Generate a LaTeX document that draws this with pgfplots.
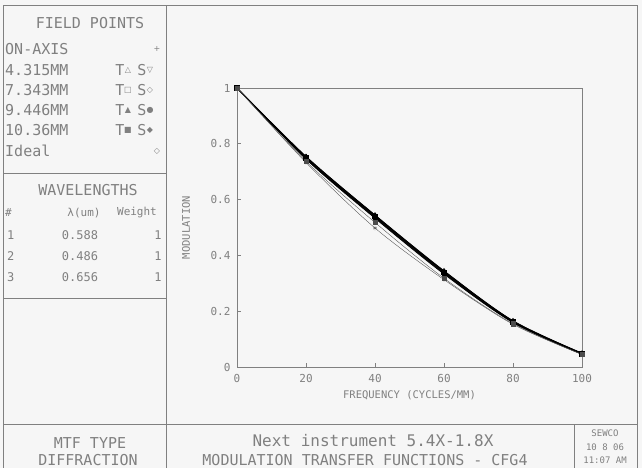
\documentclass[border=0pt]{standalone}
\usepackage{fontspec}
\setmainfont{DejaVu Sans Mono}
\newfontfamily\symfont{DejaVu Sans}
\usepackage{pgfplots}
\pgfplotsset{compat=1.18}
\definecolor{ink}{gray}{0.5}
\definecolor{paper}{gray}{0.965}
\newcommand\fs[1]{\fontsize{#1}{#1}\selectfont}
\newcommand\sym[1]{{\symfont\fs{8}#1}}

\begin{document}
\begin{tikzpicture}[x=1pt,y=1pt]
\path[use as bounding box, fill=paper] (0,0) rectangle (642,468);

% frame and panels
\begin{scope}[ink, line width=0.6pt]
\draw (3,0) -- (3,463) -- (637,463) -- (637,0);
\draw (166,0) -- (166,463);
\draw (3,295) -- (166,295);
\draw (3,170) -- (166,170);
\draw (3,44) -- (637,44);
\draw (574,0) -- (574,44);
\end{scope}

% field points
\begin{scope}[every node/.style={ink, inner sep=0pt, font=\fs{15}}]
\node at (90,445) {FIELD POINTS};
\node[anchor=west] at (5,419) {ON-AXIS};
\node[anchor=west] at (5,398) {4.315MM};
\node[anchor=west] at (5,378) {7.343MM};
\node[anchor=west] at (5,358) {9.446MM};
\node[anchor=west] at (5,338) {10.36MM};
\node[anchor=west] at (5,317) {Ideal};
\node at (157,419) {\sym{+}};
\node at (157,317) {\sym{◇}};
\foreach \yy/\ta/\sb in {398/△/▽, 378/□/◇, 358/▲/●, 338/■/◆} {
  \node at (120,\yy) {T};
  \node at (128,\yy) {\sym{\ta}};
  \node at (142,\yy) {S};
  \node at (150,\yy) {\sym{\sb}};
}
\node at (88,278) {WAVELENGTHS};
\node[anchor=west, font=\fs{11}] at (5,255) {\#};
\node[font=\fs{11}] at (84,255) {λ(um)};
\node[font=\fs{11}] at (137,255) {Weight};
\foreach \yy/\n/\w in {233/1/0.588, 212/2/0.486, 191/3/0.656} {
  \node[anchor=west, font=\fs{12}] at (7,\yy) {\n};
  \node[font=\fs{12}] at (80,\yy) {\w};
  \node[font=\fs{12}] at (158,\yy) {1};
}
\node at (90,25) {MTF TYPE};
\node at (88,8) {DIFFRACTION};
\node[font=\fs{16}] at (373,27) {Next instrument 5.4X-1.8X};
\node[font=\fs{15}] at (365,8) {MODULATION TRANSFER FUNCTIONS - CFG4};
\node[font=\fs{9}] at (605,35) {SEWCO};
\node[font=\fs{9}] at (605,21) {10 8 06};
\node[font=\fs{9}] at (605,8) {11:07 AM};
\end{scope}

\begin{axis}[
  at={(237pt,101pt)}, anchor=south west,
  scale only axis, width=345pt, height=279pt,
  xmin=0, xmax=100, ymin=0, ymax=1,
  xtick={0,20,40,60,80,100},
  ytick={0,0.2,0.4,0.6,0.8,1},
  tick align=inside, tick pos=left, major tick length=4pt,
  axis line style={ink, line width=0.6pt},
  tick style={ink, line width=0.6pt},
  ticklabel style={ink, font=\fs{11}},
  xticklabel style={yshift=-4pt},
  yticklabel style={xshift=-3pt},
  /pgf/number format/assume math mode=true,
  xlabel={FREQUENCY (CYCLES/MM)},
  ylabel={MODULATION},
  label style={ink, font=\fs{10.5}},
  xlabel style={at={(axis description cs:0.5,-0.1)}, anchor=center},
  ylabel style={at={(axis description cs:-0.148,0.5)}, anchor=center},
  every axis plot/.append style={black, line width=0.7pt, smooth, mark size=2.2pt, mark options={solid}},
]
% Ideal
\addplot[mark=diamond] coordinates {(0,1) (20,0.755) (40,0.545) (60,0.345) (80,0.166) (100,0.050)};
% on-axis
\addplot[mark=+] coordinates {(0,1) (20,0.754) (40,0.544) (60,0.344) (80,0.165) (100,0.049)};
% 4.315 T, S
\addplot[mark=triangle] coordinates {(0,1) (20,0.752) (40,0.542) (60,0.342) (80,0.164) (100,0.048)};
\addplot[mark=triangle, mark options={rotate=180}] coordinates {(0,1) (20,0.751) (40,0.541) (60,0.341) (80,0.163) (100,0.048)};
% 7.343 T, S
\addplot[mark=square] coordinates {(0,1) (20,0.749) (40,0.539) (60,0.339) (80,0.162) (100,0.047)};
\addplot[mark=diamond] coordinates {(0,1) (20,0.748) (40,0.537) (60,0.337) (80,0.161) (100,0.047)};
% 9.446 T, S
\addplot[mark=triangle*] coordinates {(0,1) (20,0.746) (40,0.535) (60,0.335) (80,0.160) (100,0.046)};
\addplot[mark=*] coordinates {(0,1) (20,0.745) (40,0.533) (60,0.333) (80,0.159) (100,0.046)};
% 10.36 T, S
\addplot[mark=square*, line width=0.35pt, black!70] coordinates {(0,1) (20,0.737) (40,0.518) (60,0.318) (80,0.155) (100,0.045)};
\addplot[mark=asterisk, line width=0.35pt, black!70] coordinates {(0,1) (20,0.733) (40,0.498) (60,0.313) (80,0.153) (100,0.045)};
\end{axis}
\end{tikzpicture}
\end{document}
